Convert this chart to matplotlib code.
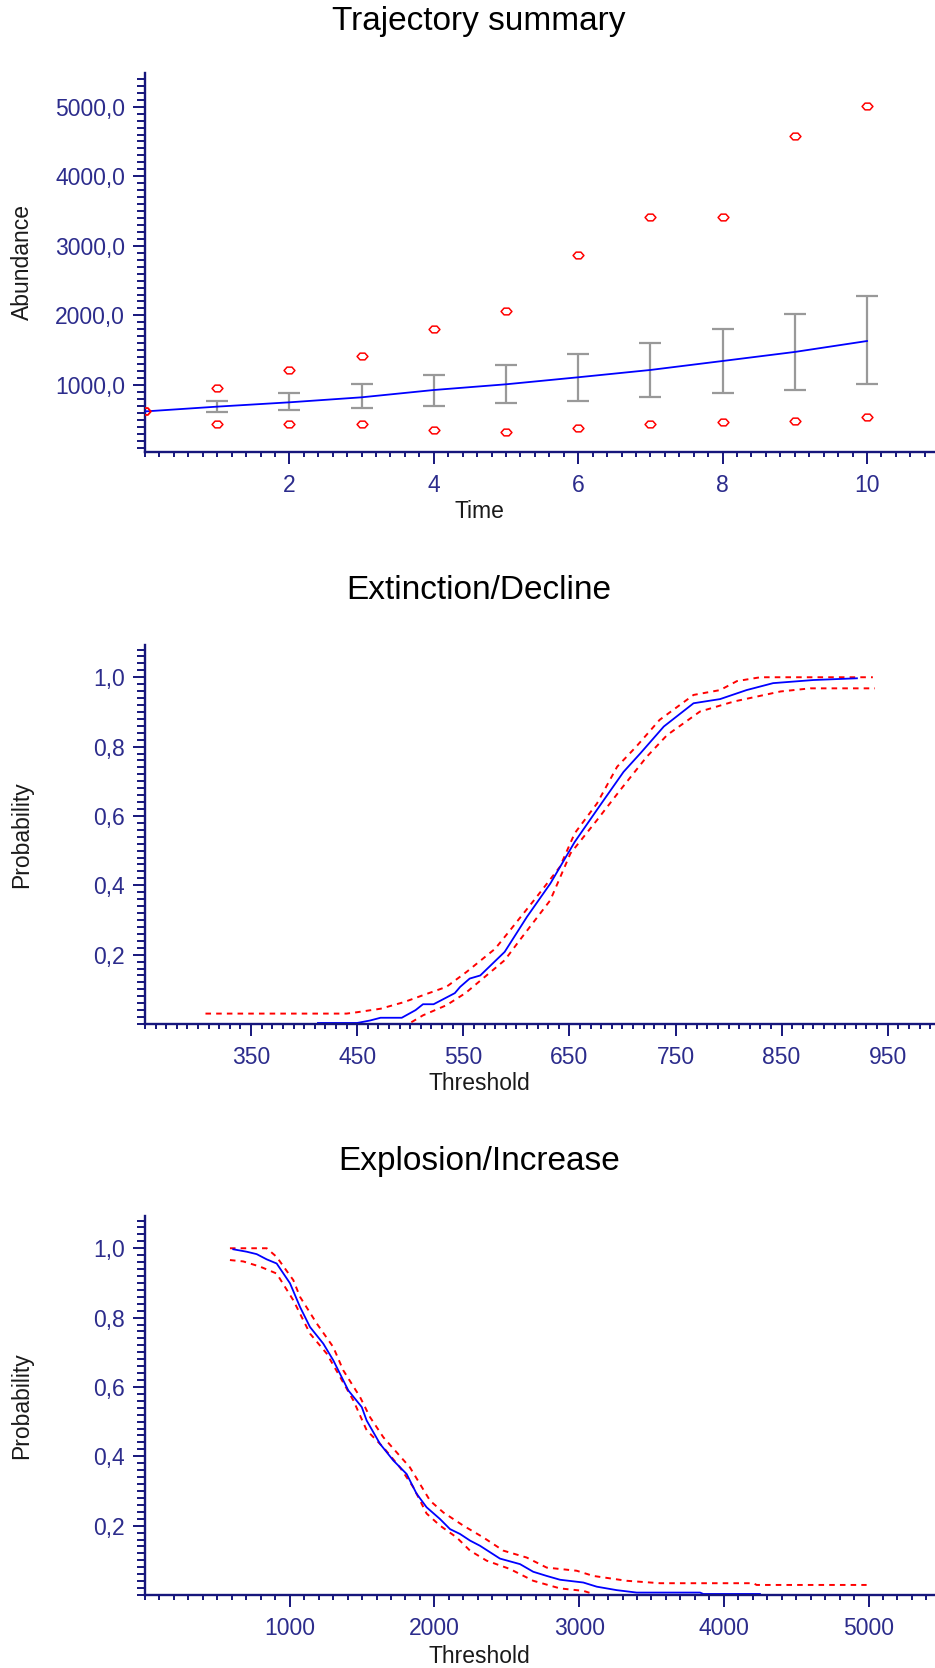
import numpy as np
import matplotlib
matplotlib.use("Agg")
import matplotlib.pyplot as plt
from matplotlib.path import Path
from matplotlib.ticker import MultipleLocator, FixedLocator, FuncFormatter

plt.rcParams['font.family'] = ['Liberation Sans', 'DejaVu Sans']
plt.rcParams['lines.scale_dashes'] = False

# ---- Trajectory summary -------------------------------------------------
time = [0, 1, 2, 3, 4, 5, 6, 7, 8, 9, 10]
abund_mean = [620, 689, 751, 823, 928, 1010, 1111, 1216, 1345, 1475, 1632]
abund_sd_low = [620, 617, 641, 665, 694, 746, 770, 823, 881, 928, 1010]
abund_sd_high = [620, 775, 881, 1010, 1139, 1288, 1446, 1600, 1810, 2016, 2275]
abund_max = [620, 952, 1216, 1417, 1810, 2064, 2869, 3410, 3410, 4578, 5015]
abund_min = [620, 435, 435, 435, 354, 330, 378, 435, 464, 488, 536]

# ---- Extinction / decline curve -----------------------------------------
ext_x = [413, 450, 462, 472, 492, 505, 512, 522, 542, 547, 556, 566, 589, 610,
         632, 655, 679, 701, 717, 739, 767, 792, 817, 842, 880, 921]
ext_p = [0.003, 0.003, 0.010, 0.018, 0.018, 0.040, 0.057, 0.057, 0.089, 0.107,
         0.131, 0.140, 0.208, 0.309, 0.405, 0.525, 0.631, 0.727, 0.781, 0.858,
         0.925, 0.937, 0.963, 0.983, 0.992, 0.997]
ext_hi_x = [307, 440, 450, 472, 494, 512, 534, 553, 580, 594, 619, 641, 655,
            676, 695, 713, 735, 767, 792, 808, 830, 936]
ext_hi_p = [0.030, 0.030, 0.034, 0.044, 0.063, 0.083, 0.107, 0.150, 0.217,
            0.270, 0.366, 0.453, 0.550, 0.636, 0.742, 0.800, 0.877, 0.949,
            0.963, 0.989, 1.000, 1.000]
ext_lo_x = [501, 512, 534, 552, 589, 603, 632, 651, 676, 698, 723, 742, 773,
            805, 849, 877, 938]
ext_lo_p = [0.005, 0.025, 0.054, 0.089, 0.184, 0.241, 0.357, 0.492, 0.588,
            0.675, 0.771, 0.833, 0.901, 0.930, 0.959, 0.968, 0.968]

# ---- Explosion / increase curve -----------------------------------------
exp_x = [610, 703, 772, 841, 910, 1002, 1071, 1140, 1232, 1301, 1405, 1498,
         1532, 1624, 1716, 1808, 1877, 1946, 2039, 2108, 2177, 2246, 2315,
         2453, 2592, 2683, 2776, 2868, 3029, 3122, 3260, 3398, 3836, 3858, 4250]
exp_p = [0.997, 0.990, 0.983, 0.968, 0.956, 0.899, 0.831, 0.773, 0.725, 0.677,
         0.590, 0.542, 0.503, 0.436, 0.388, 0.349, 0.292, 0.253, 0.219, 0.190,
         0.176, 0.157, 0.142, 0.105, 0.089, 0.067, 0.055, 0.044, 0.036, 0.024,
         0.014, 0.007, 0.007, 0.003, 0.003]
exp_hi_x = [587, 841, 910, 1025, 1071, 1187, 1301, 1370, 1486, 1555, 1647,
            1831, 1970, 2062, 2131, 2200, 2338, 2476, 2638, 2776, 2983, 3098,
            3329, 3559, 4204, 4227, 4987]
exp_hi_p = [1.000, 1.000, 0.975, 0.908, 0.860, 0.783, 0.715, 0.648, 0.571,
            0.513, 0.455, 0.368, 0.272, 0.238, 0.219, 0.200, 0.166, 0.128,
            0.108, 0.079, 0.070, 0.055, 0.041, 0.034, 0.034, 0.029, 0.029]
exp_lo_x = [587, 679, 795, 910, 1025, 1140, 1256, 1348, 1440, 1532, 1647, 1762,
            1854, 1946, 2039, 2154, 2246, 2361, 2522, 2683, 2868, 3029, 3098]
exp_lo_p = [0.966, 0.962, 0.947, 0.927, 0.850, 0.754, 0.696, 0.629, 0.561,
            0.475, 0.426, 0.368, 0.311, 0.235, 0.200, 0.166, 0.128, 0.099,
            0.075, 0.041, 0.019, 0.012, 0.003]

# ---- styling --------------------------------------------------------------
AXIS_COL = '#16167c'
TICK_TXT = '#2c2c8c'
LABEL_COL = '#1a1a1a'
BLUE = '#0000ff'
RED = '#ff0000'
GREY = '#999999'
FS_TICK = 16.5
FS_LABEL = 16.5
FS_TITLE = 24
W, H = 935, 1668

fig = plt.figure(figsize=(W / 100, H / 100), dpi=100)


def make_axes(top_px, bottom_px):
    left = 145
    return fig.add_axes([left / W, 1 - bottom_px / H, (W - left) / W,
                         (bottom_px - top_px) / H])


def comma_fmt(v, pos):
    return f"{v:.1f}".replace('.', ',')


def style(ax, title, xlabel, ylabel, title_y, xlabel_y):
    for s in ('top', 'right'):
        ax.spines[s].set_visible(False)
    for s in ('left', 'bottom'):
        ax.spines[s].set_color(AXIS_COL)
        ax.spines[s].set_linewidth(1.7)
    ax.tick_params(which='both', direction='out', color=AXIS_COL, width=1.4)
    ax.tick_params(axis='both', which='major', length=8.6, labelsize=FS_TICK,
                   labelcolor=TICK_TXT)
    ax.tick_params(axis='y', which='major', pad=5.8)
    ax.tick_params(axis='x', which='major', pad=7)
    ax.tick_params(axis='y', which='minor', length=5.8)
    ax.tick_params(axis='x', which='minor', length=3.6)
    ax.set_title(title, fontsize=FS_TITLE, color='black', x=0.4228,
                 y=title_y, va='center', pad=0)
    ax.set_xlabel(xlabel, fontsize=FS_LABEL, color=LABEL_COL, va='center')
    ax.set_ylabel(ylabel, fontsize=FS_LABEL, color=LABEL_COL, va='center',
                  ha='center')
    ax.xaxis.set_label_coords(0.4228, xlabel_y)
    ax.yaxis.set_label_coords(-(145 - 22) / 790, 0.5)
    ax.patch.set_alpha(0)


oct_marker = Path([(-1, 0), (-0.45, 0.62), (0.45, 0.62), (1, 0),
                   (0.45, -0.62), (-0.45, -0.62), (-1, 0)],
                  [Path.MOVETO] + [Path.LINETO] * 5 + [Path.CLOSEPOLY])

# ---- panel 1: trajectory summary -----------------------------------------
ax1 = make_axes(73, 452)
t = np.array(time)
m = np.array(abund_mean)
lo = np.array(abund_sd_low)
hi = np.array(abund_sd_high)
ax1.errorbar(t[1:], m[1:], yerr=[m[1:] - lo[1:], hi[1:] - m[1:]], fmt='none',
             ecolor=GREY, elinewidth=1.6, capsize=7.8, capthick=1.6, zorder=2)
ax1.plot(t, m, color=BLUE, lw=1.3, zorder=3)
for series in (abund_max, abund_min):
    ax1.plot(t, series, ls='none', marker=oct_marker, ms=7.8, mfc='none',
             mec=RED, mew=1.1, zorder=4)
ax1.set_xlim(0, 790 / 72.2)
ax1.set_ylim(37, 5484)
ax1.xaxis.set_major_locator(FixedLocator([2, 4, 6, 8, 10]))
ax1.xaxis.set_minor_locator(MultipleLocator(0.2))
ax1.yaxis.set_major_locator(FixedLocator([1000, 2000, 3000, 4000, 5000]))
ax1.yaxis.set_minor_locator(MultipleLocator(100))
ax1.yaxis.set_major_formatter(FuncFormatter(comma_fmt))
style(ax1, 'Trajectory summary', 'Time', 'Abundance', 1.137, -0.1575)

# ---- panel 2: extinction / decline ---------------------------------------
DASH = (0, (4.0, 3.7))
ax2 = make_axes(645, 1024)
ax2.plot(ext_hi_x, ext_hi_p, color=RED, lw=1.4, ls=DASH)
ax2.plot(ext_lo_x, ext_lo_p, color=RED, lw=1.4, ls=DASH)
ax2.plot(ext_x, ext_p, color=BLUE, lw=1.3)
ax2.set_xlim(250, 250 + 790 / 1.061)
ax2.set_ylim(0, 1.093)
ax2.xaxis.set_major_locator(FixedLocator(np.arange(350, 1000, 100)))
ax2.xaxis.set_minor_locator(MultipleLocator(10))
ax2.yaxis.set_major_locator(FixedLocator([0.2, 0.4, 0.6, 0.8, 1.0]))
ax2.yaxis.set_minor_locator(MultipleLocator(0.02))
ax2.yaxis.set_major_formatter(FuncFormatter(comma_fmt))
style(ax2, 'Extinction/Decline', 'Threshold', 'Probability', 1.145, -0.1557)

# ---- panel 3: explosion / increase ---------------------------------------
ax3 = make_axes(1216, 1595)
ax3.plot(exp_hi_x, exp_hi_p, color=RED, lw=1.4, ls=DASH)
ax3.plot(exp_lo_x, exp_lo_p, color=RED, lw=1.4, ls=DASH)
ax3.plot(exp_x, exp_p, color=BLUE, lw=1.3)
ax3.set_xlim(0, 790 / 0.1447)
ax3.set_ylim(0, 1.093)
ax3.xaxis.set_major_locator(FixedLocator([1000, 2000, 3000, 4000, 5000]))
ax3.xaxis.set_minor_locator(MultipleLocator(100))
ax3.yaxis.set_major_locator(FixedLocator([0.2, 0.4, 0.6, 0.8, 1.0]))
ax3.yaxis.set_minor_locator(MultipleLocator(0.02))
ax3.yaxis.set_major_formatter(FuncFormatter(comma_fmt))
style(ax3, 'Explosion/Increase', 'Threshold', 'Probability', 1.1435, -0.161)

fig.savefig('out.png', dpi=100, facecolor='white')
